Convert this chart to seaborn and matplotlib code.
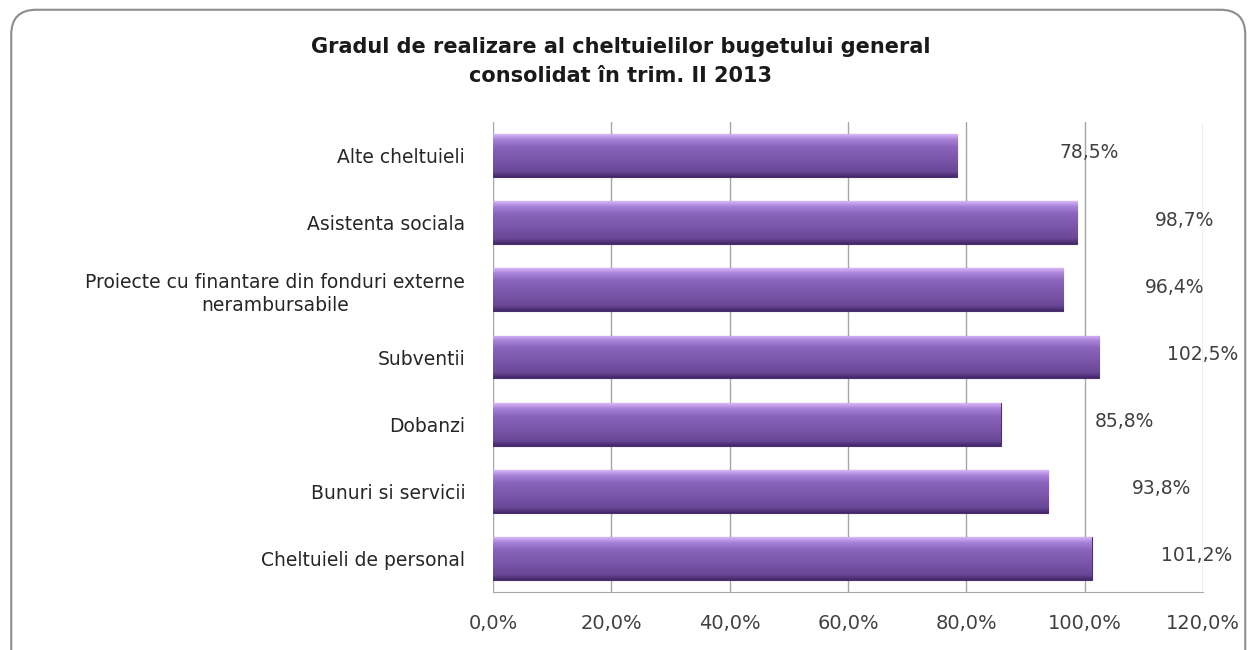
import numpy as np
import seaborn as sns
import matplotlib
matplotlib.use("Agg")
import matplotlib.pyplot as plt
import pandas as pd
from matplotlib.colors import LinearSegmentedColormap
from matplotlib.patches import FancyBboxPatch
from matplotlib.ticker import FuncFormatter, MultipleLocator

# Data
categories = [
    "Alte cheltuieli",
    "Asistenta sociala",
    "Proiecte cu finantare din fonduri externe\nnerambursabile",
    "Subventii",
    "Dobanzi",
    "Bunuri si servicii",
    "Cheltuieli de personal",
]
values = [78.5, 98.7, 96.4, 102.5, 85.8, 93.8, 101.2]

df = pd.DataFrame({"Categorie": categories, "Realizare": values})

sns.set_style("white")
plt.rcParams["font.family"] = ["DejaVu Sans"]

fig = plt.figure(figsize=(12.49, 6.5), dpi=100)
ax = fig.add_axes([0.3947, 0.0892, 0.9632 - 0.3947, 0.8123 - 0.0892])

sns.barplot(data=df, x="Realizare", y="Categorie", ax=ax, color="#7b55a9",
            width=0.64, orient="h", edgecolor="#4b3070", linewidth=0.8)

# Cylinder-like shading on each bar
shade = LinearSegmentedColormap.from_list("shade", [
    (0.0, "#d6b4f7"), (0.12, "#a882d8"), (0.3, "#8a64bb"),
    (0.6, "#7b55a9"), (0.88, "#6a4797"), (1.0, "#44296a")])
grad = np.linspace(0, 1, 64).reshape(-1, 1)
for p in list(ax.patches):
    x0, y0 = p.get_x(), p.get_y()
    w, h = p.get_width(), p.get_height()
    im = ax.imshow(grad, cmap=shade, aspect="auto", origin="upper",
                   extent=(x0, x0 + w, y0 + h, y0), zorder=p.get_zorder() + 0.1)
    im.set_clip_path(p)

ax.set_xlim(0, 120)
ax.set_ylim(len(categories) - 0.5, -0.5)
ax.xaxis.set_major_locator(MultipleLocator(20))
ax.xaxis.set_major_formatter(FuncFormatter(lambda v, _: f"{v:.1f}%".replace(".", ",")))
ax.grid(axis="x", color="#a6a6a6", linewidth=1)
ax.set_axisbelow(True)
for s in ["top", "right", "left"]:
    ax.spines[s].set_visible(False)
ax.spines["bottom"].set_color("#a6a6a6")
ax.tick_params(axis="x", length=0, pad=16, labelsize=14, labelcolor="#404040")
ax.tick_params(axis="y", length=0, pad=20, labelsize=13.5, labelcolor="#262626")
for lbl in ax.get_yticklabels():
    lbl.set_multialignment("center")
    lbl.set_linespacing(1.3)
ax.set_xlabel("")
ax.set_ylabel("")

# Value labels, offset to the right as in the original
for i, v in enumerate(values):
    ax.text(38 + 0.8 * v, i - 0.04, f"{v:.1f}%".replace(".", ","), ha="center", va="center",
            fontsize=13.5, color="#404040", clip_on=False)

fig.text(0.497, 0.906, "Gradul de realizare al cheltuielilor bugetului general\nconsolidat în trim. II 2013",
         ha="center", va="center", fontsize=15, fontweight="bold", color="#1a1a1a",
         linespacing=1.55)

frame = FancyBboxPatch((0.009, -0.05), 0.988, 1.035, transform=fig.transFigure,
                       boxstyle="round,pad=0,rounding_size=0.02", facecolor="none",
                       edgecolor="#8c8c8c", linewidth=1.5, mutation_aspect=1249 / 650)
fig.patches.append(frame)

fig.savefig("out.png", dpi=100)
